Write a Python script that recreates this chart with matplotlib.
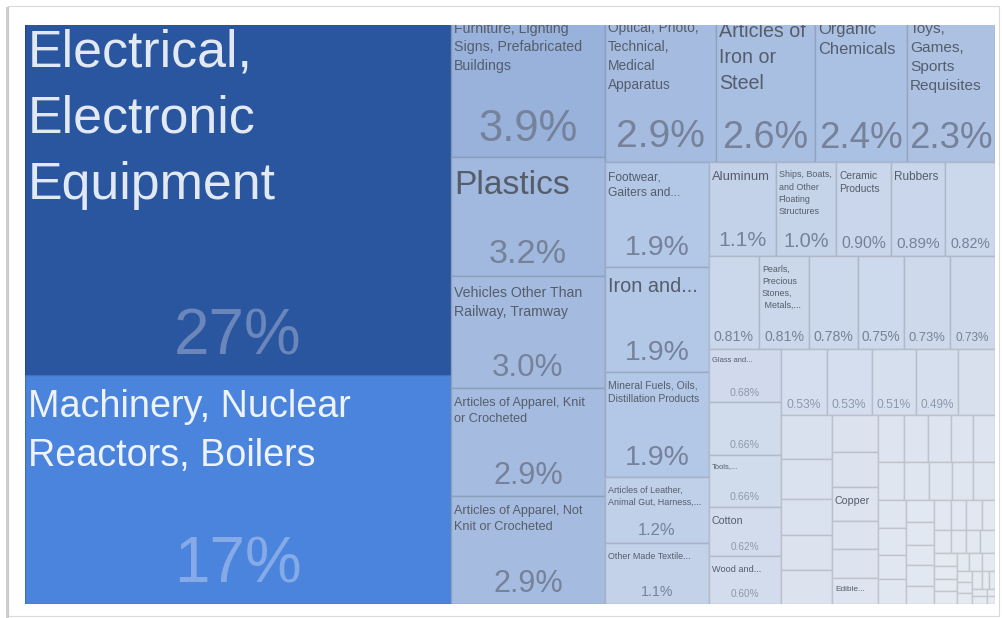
import numpy as np
import matplotlib.pyplot as plt
from matplotlib import font_manager
from matplotlib.patches import Rectangle
from matplotlib.colors import to_rgb

# export shares (%), largest first, in the order the tiles are laid out
shares = [
    27, 17,
    3.9, 3.2, 3.0, 2.9, 2.9,
    2.9, 2.6, 2.4, 2.3,
    1.9, 1.9, 1.9, 1.2, 1.1,
    1.1, 1.0, 0.90, 0.89, 0.82,
    0.81, 0.81, 0.78, 0.75, 0.73, 0.73,
    0.68, 0.66, 0.66, 0.62, 0.60,
    0.53, 0.53, 0.51, 0.49, 0.43,
    0.39, 0.36, 0.32, 0.31, 0.30,
    0.30, 0.28, 0.27, 0.23, 0.23, 0.21,
    0.21, 0.20, 0.19, 0.18, 0.18,
    0.17, 0.16, 0.15, 0.14, 0.14,
    0.14, 0.13, 0.12, 0.12,
    0.11, 0.11, 0.10, 0.10, 0.09,
    0.09, 0.08, 0.08, 0.07, 0.07, 0.06, 0.06, 0.06, 0.05, 0.05, 0.05, 0.05,
    0.04, 0.04, 0.04, 0.03, 0.03, 0.03, 0.03, 0.02, 0.02, 0.02, 0.02, 0.01, 0.01,
]

labels = {
    0: "Electrical,\nElectronic\nEquipment",
    1: "Machinery, Nuclear\nReactors, Boilers",
    2: "Furniture, Lighting\nSigns, Prefabricated\nBuildings",
    3: "Plastics",
    4: "Vehicles Other Than\nRailway, Tramway",
    5: "Articles of Apparel, Knit\nor Crocheted",
    6: "Articles of Apparel, Not\nKnit or Crocheted",
    7: "Optical, Photo,\nTechnical,\nMedical\nApparatus",
    8: "Articles of\nIron or\nSteel",
    9: "Organic\nChemicals",
    10: "Toys,\nGames,\nSports\nRequisites",
    11: "Footwear,\nGaiters and...",
    12: "Iron and...",
    13: "Mineral Fuels, Oils,\nDistillation Products",
    14: "Articles of Leather,\nAnimal Gut, Harness,...",
    15: "Other Made Textile...",
    16: "Aluminum",
    17: "Ships, Boats,\nand Other\nFloating\nStructures",
    18: "Ceramic\nProducts",
    19: "Rubbers",
    22: "Pearls,\nPrecious\nStones,\n Metals,...",
    27: "Glass and...",
    29: "Tools,...",
    30: "Cotton",
    31: "Wood and...",
    44: "Copper",
    47: "Edible...",
}

# text sizes (pt) per tile
label_pt = {0: 44, 1: 32, 2: 12, 3: 28.5, 4: 12, 5: 10.7, 6: 10.7, 7: 11.7,
            8: 16.6, 9: 14, 10: 13, 11: 10.2, 12: 16.8, 13: 8.8, 14: 7.6,
            15: 7.5, 16: 11, 17: 7.5, 18: 8.7, 19: 10, 22: 7.5, 27: 6.4,
            29: 6.5, 30: 9, 31: 7.7, 44: 9, 47: 7}
share_pt = {0: 54, 1: 54, 2: 37, 3: 29, 4: 26.6, 5: 26, 6: 26, 7: 33, 8: 32,
            9: 31, 10: 31, 11: 24, 12: 24, 13: 24, 14: 14, 15: 12, 16: 18,
            17: 17, 18: 13.3, 19: 13, 20: 12, 21: 12, 22: 12, 23: 12,
            24: 11.5, 25: 11, 26: 10, 27: 9, 28: 9, 29: 9, 30: 8.5, 31: 8.5,
            32: 10.4, 33: 10.4, 34: 10.2, 35: 10}

# how the tiles are grouped: ("x", ...) splits side by side, ("y", ...) stacks,
# an int means that many single tiles, "sq" squarifies whatever is left
LAYOUT = ("x", [
    ("y", 2),
    ("y", 5),
    ("y", [
        ("x", 4),
        ("x", [
            ("y", 5),
            ("y", [
                ("x", 5),
                ("x", 6),
                ("x", [
                    ("y", 5),
                    ("y", [
                        ("x", 5),
                        ("x", [
                            ("y", 5),
                            ("y", 6),
                            ("y", [
                                ("x", 5),
                                ("x", 5),
                                ("x", [("y", 4), ("y", 5), ("sq", None)]),
                            ]),
                        ]),
                    ]),
                ]),
            ]),
        ]),
    ]),
])

COLOR_STOPS = [(27, "#2A56A0"), (17, "#4A84DC"), (3.9, "#98B2DB"),
               (2.9, "#A5BCE0"), (1.9, "#B3C7E6"), (1.0, "#C6D4EA"),
               (0.7, "#CFDAEC"), (0.5, "#D6DFEE"), (0.3, "#DCE3EF"),
               (0.1, "#E2E8F1"), (0.01, "#E7ECF3")]


def n_leaves(node, avail):
    kind, kids = node
    if kind == "sq":
        return avail
    if isinstance(kids, int):
        return kids
    n = 0
    for k in kids:
        n += n_leaves(k, avail - n)
    return n


def squarify(vals, x0, y0, x1, y1, out, ratio=1.618):
    value = sum(vals)
    i0, n = 0, len(vals)
    while i0 < n:
        dx, dy = x1 - x0, y1 - y0
        s = lo = hi = vals[i0]
        i1 = i0 + 1
        alpha = max(dy / dx, dx / dy) / (value * ratio)
        beta = s * s * alpha
        best = max(hi / beta, beta / lo)
        while i1 < n:
            v = vals[i1]
            s2, lo2, hi2 = s + v, min(lo, v), max(hi, v)
            beta = s2 * s2 * alpha
            r = max(hi2 / beta, beta / lo2)
            if r > best:
                break
            s, lo, hi, best = s2, lo2, hi2, r
            i1 += 1
        row = vals[i0:i1]
        if dx < dy:
            yb = y0 + dy * s / value if i1 < n else y1
            xx = x0
            for v in row:
                w = dx * v / s
                out.append((xx, y0, xx + w, yb))
                xx += w
            y0 = yb
        else:
            xb = x0 + dx * s / value if i1 < n else x1
            yy = y0
            for v in row:
                h = dy * v / s
                out.append((x0, yy, xb, yy + h))
                yy += h
            x0 = xb
        value -= s
        i0 = i1


def place(node, vals, x0, y0, x1, y1, out):
    kind, kids = node
    if kind == "sq":
        squarify(vals, x0, y0, x1, y1, out)
        return
    if isinstance(kids, int):
        kids = [None] * kids
    parts, start = [], 0
    for k in kids:
        n = 1 if k is None else n_leaves(k, len(vals) - start)
        parts.append((k, vals[start:start + n]))
        start += n
    total = sum(vals[:start])
    pos = x0 if kind == "x" else y0
    for k, sub in parts:
        frac = sum(sub) / total
        if kind == "x":
            nxt = pos + (x1 - x0) * frac
            box = (pos, y0, nxt, y1)
        else:
            nxt = pos + (y1 - y0) * frac
            box = (x0, pos, x1, nxt)
        if k is None:
            out.append(box)
        else:
            place(k, sub, *box, out)
        pos = nxt


def fill_for(v):
    xs = np.log10([a for a, _ in COLOR_STOPS][::-1])
    cols = np.array([to_rgb(c) for _, c in COLOR_STOPS][::-1])
    lv = np.log10(v)
    return tuple(np.interp(lv, xs, cols[:, k]) for k in range(3))


def fmt(v):
    if v >= 10:
        return f"{v:.0f}%"
    if v >= 1:
        return f"{v:.1f}%"
    return f"{v:.2f}%"


# narrow face if there is one, otherwise shrink the regular one a bit
installed = {f.name for f in font_manager.fontManager.ttflist}
if "Liberation Sans Narrow" in installed:
    plt.rcParams["font.family"] = ["Liberation Sans Narrow", "DejaVu Sans"]
    size_scale = 1.0
else:
    plt.rcParams["font.family"] = ["Liberation Sans", "DejaVu Sans"]
    size_scale = 0.85
# keep roughly 1.08 em between label lines whatever the scale
line_sp = (1.08 / size_scale - 0.21) / 0.73

W, H = 1003, 618
fig = plt.figure(figsize=(W / 100, H / 100), dpi=100)
fig.patch.set_facecolor("white")

# page frame around the chart
bg = fig.add_axes([0, 0, 1, 1])
bg.set_xlim(0, W)
bg.set_ylim(H, 0)
bg.axis("off")
bg.add_patch(Rectangle((8, 6), 991, 610, fill=False, edgecolor="#dadada", lw=0.8))
bg.plot([7, 7], [8, 618], color="#c4c4c4", lw=2.2, alpha=0.8)

# tile area (the top strip is cut off by the frame)
left, right, top, bottom, clip_top = 25, 995, 12, 604, 25
ax = fig.add_axes([left / W, (H - bottom) / H, (right - left) / W, (bottom - clip_top) / H])
ax.set_xlim(left, right)
ax.set_ylim(bottom, clip_top)
ax.axis("off")

rects = []
place(LAYOUT, shares, left, top, right, bottom, rects)

for i, (x0, y0, x1, y1) in enumerate(rects):
    fc = fill_for(shares[i])
    ax.add_patch(Rectangle((x0, y0), x1 - x0, y1 - y0, facecolor=fc,
                           edgecolor=tuple(np.array(fc) * 0.85), lw=1.0))
    if i in labels:
        em = label_pt[i] / 0.72
        col = "#E3E9F3" if i == 0 else ("#EEF3FB" if i == 1 else "#555D6B")
        ax.text(x0 + 3, y0 + 7 + 0.15 * em, labels[i], fontsize=label_pt[i] * size_scale,
                color=col, ha="left", va="top", linespacing=line_sp, clip_on=True)
    if i in share_pt:
        em = share_pt[i] / 0.72
        if i == 0:
            col = "#6A86BB"
        elif i == 1:
            col = "#86AAE8"
        elif shares[i] >= 0.7:
            col = "#76819A"
        else:
            col = "#8E98A9"
        ax.text((x0 + x1) / 2, y1 - 4 - 0.23 * em, fmt(shares[i]),
                fontsize=share_pt[i] * size_scale, color=col,
                ha="center", va="baseline", clip_on=True)

fig.savefig("out.png", dpi=100, facecolor="white")
